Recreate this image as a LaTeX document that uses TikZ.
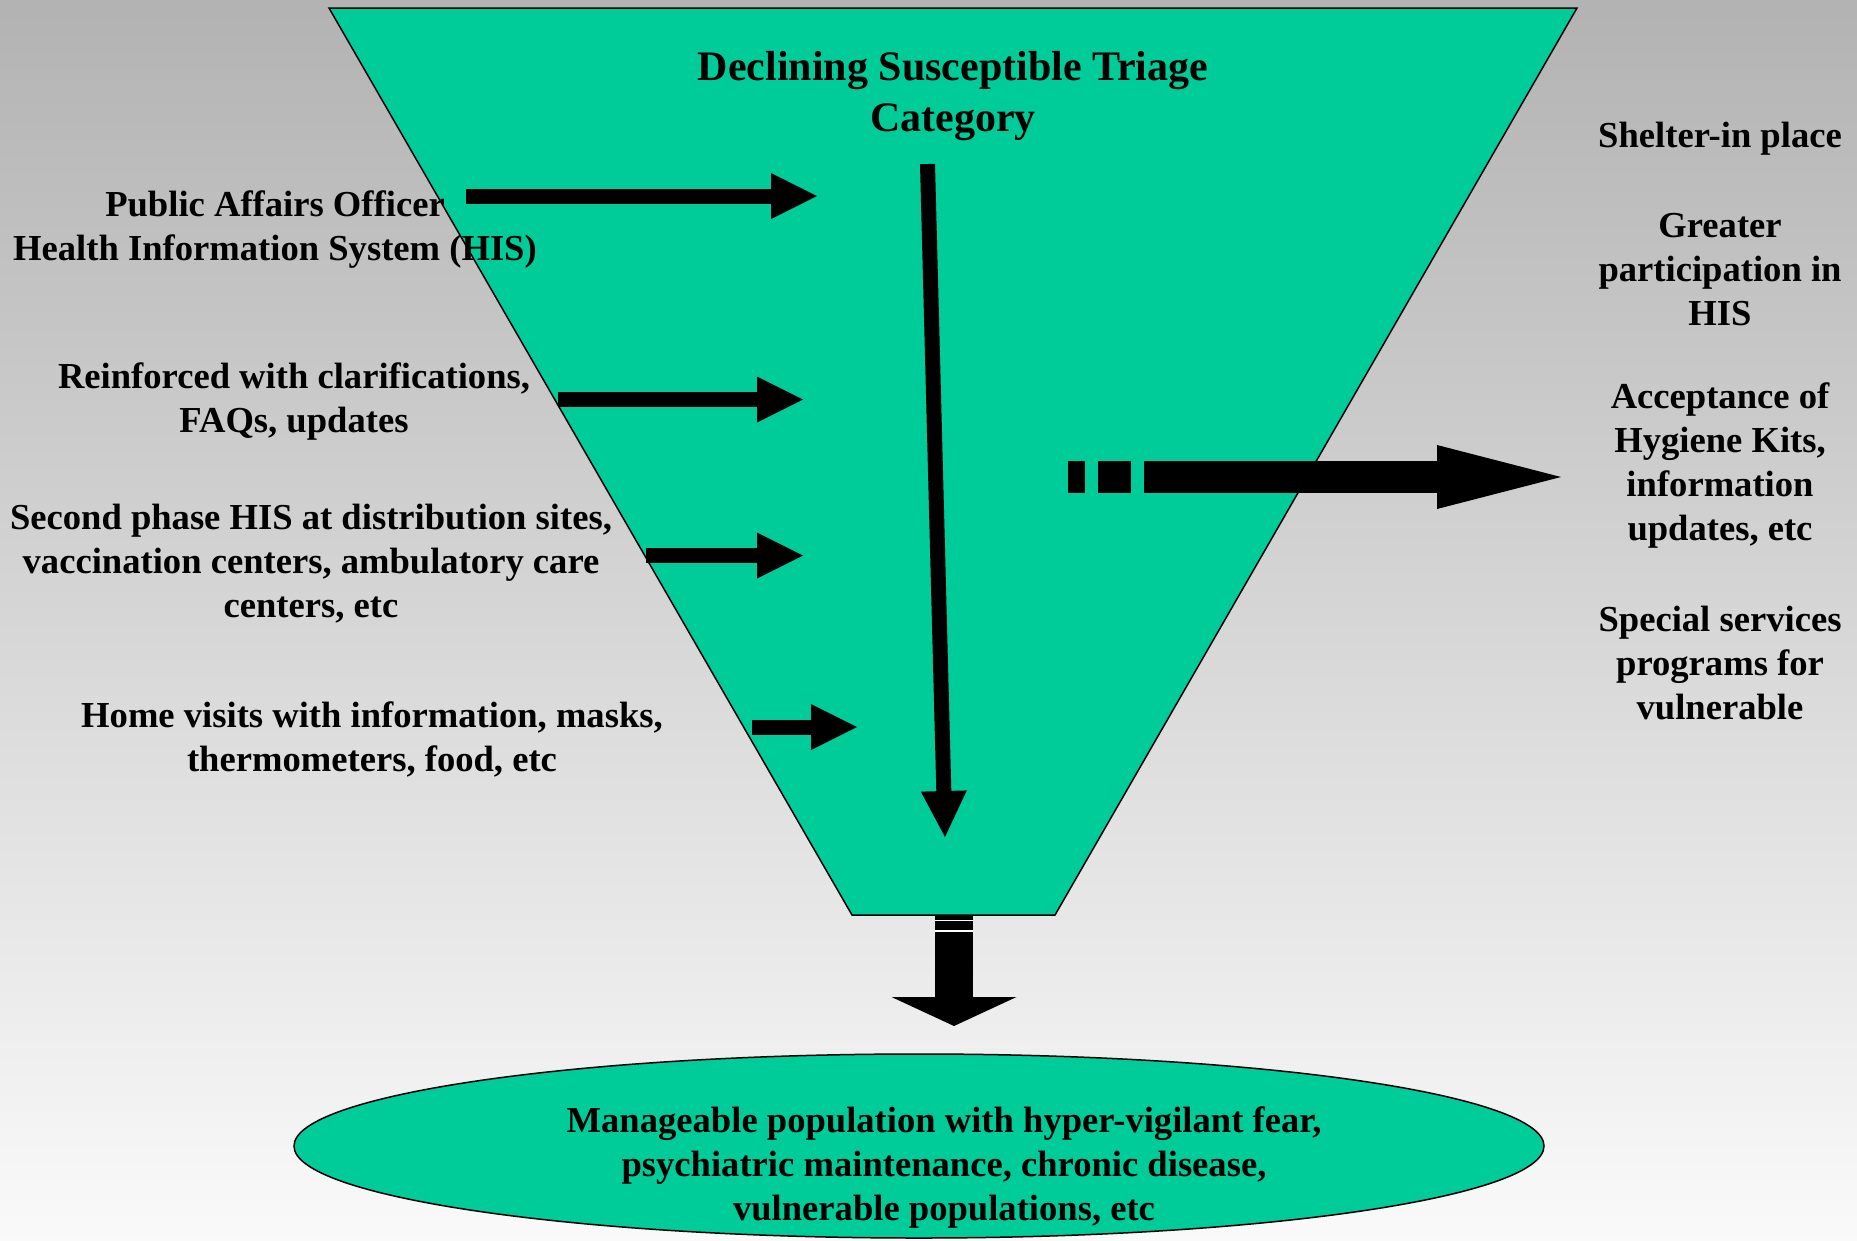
\documentclass[tikz,border=0pt]{standalone}
\usepackage{fontspec}
\setmainfont{Liberation Serif}
\usetikzlibrary{arrows.meta}
\usetikzlibrary{shapes.geometric}

\definecolor{funnelgreen}{RGB}{0,204,153}
\tikzset{
  txt/.style={font=\fontsize{36.6}{44}\selectfont\bfseries, align=center, inner sep=0pt},
  headtxt/.style={font=\fontsize{42}{51}\selectfont\bfseries, align=center, inner sep=0pt},
  fat/.style={line width=15pt, -{Triangle[length=46pt,width=46pt,line width=0pt]}},
}

\begin{document}
\begin{tikzpicture}[x=1pt,y=-1pt]
\shade[top color=black!30,bottom color=black!2] (0,0) rectangle (1857,1240);
\useasboundingbox (0,0) rectangle (1857,1240);
% funnel
\draw[fill=funnelgreen, line width=1.5pt] (329,8) -- (1577,8) -- (1055,915) -- (852,915) -- cycle;
\node[headtxt] (title) at (953,96.5) {Declining Susceptible Triage\\Category};
% inputs on the left
\node[txt] (pao) at (275,230) {Public Affairs Officer\\Health Information System (HIS)};
\node[txt] (reinf) at (294,402) {Reinforced with clarifications,\\FAQs, updates};
\node[txt] (second) at (311,564) {Second phase HIS at distribution sites,\\vaccination centers, ambulatory care\\centers, etc};
\node[txt] (home) at (372,739) {Home visits with information, masks,\\thermometers, food, etc};
\coordinate (pao-s) at (466,196);  \coordinate (pao-e) at (817,196);
\coordinate (reinf-s) at (558,399.5); \coordinate (reinf-e) at (803,399.5);
\coordinate (second-s) at (646,555.5); \coordinate (second-e) at (803,555.5);
\coordinate (home-s) at (752,727); \coordinate (home-e) at (857,727);
\draw[fat] (pao-s) -- (pao-e);
\draw[fat] (reinf-s) -- (reinf-e);
\draw[fat] (second-s) -- (second-e);
\draw[fat] (home-s) -- (home-e);
% decline through the funnel
\coordinate (top) at (927.5,164); \coordinate (bottom) at (945,837);
\draw[fat] (top) -- (bottom);
% outcomes on the right
\node[txt] (shelter) at (1720,139) {Shelter-in place};
\node[txt] (greater) at (1720,270) {Greater\\participation in\\HIS};
\node[txt] (accept) at (1720,466) {Acceptance of\\Hygiene Kits,\\information\\updates, etc};
\node[txt] (special) at (1720,663) {Special services\\programs for\\vulnerable};
\coordinate (gap) at (1068,477); \coordinate (outlet) at (1561,477);
\draw[line width=32pt, dash pattern=on 17pt off 13pt on 33pt off 13pt on 2000pt,
  -{Triangle[length=124pt,width=64pt,line width=0pt]}] (gap) -- (outlet);
% remaining population
\node[draw, ellipse, fill=funnelgreen, line width=1.5pt, minimum width=1250pt, minimum height=184pt, inner sep=0pt] (pool) at (919,1146) {};
\node[txt] (manage) at (944,1167) {Manageable population with hyper-vigilant fear,\\psychiatric maintenance, chronic disease,\\vulnerable populations, etc};
\coordinate (neck) at (954,915); \coordinate (drop) at (954,1026);
\draw[line width=38pt, -{Triangle[length=29pt,width=125pt,line width=0pt]}] (neck) -- (drop);
\draw[white, line width=1.5pt] (935,920.5) -- (973,920.5) (935,931) -- (973,931);
\end{tikzpicture}
\end{document}
